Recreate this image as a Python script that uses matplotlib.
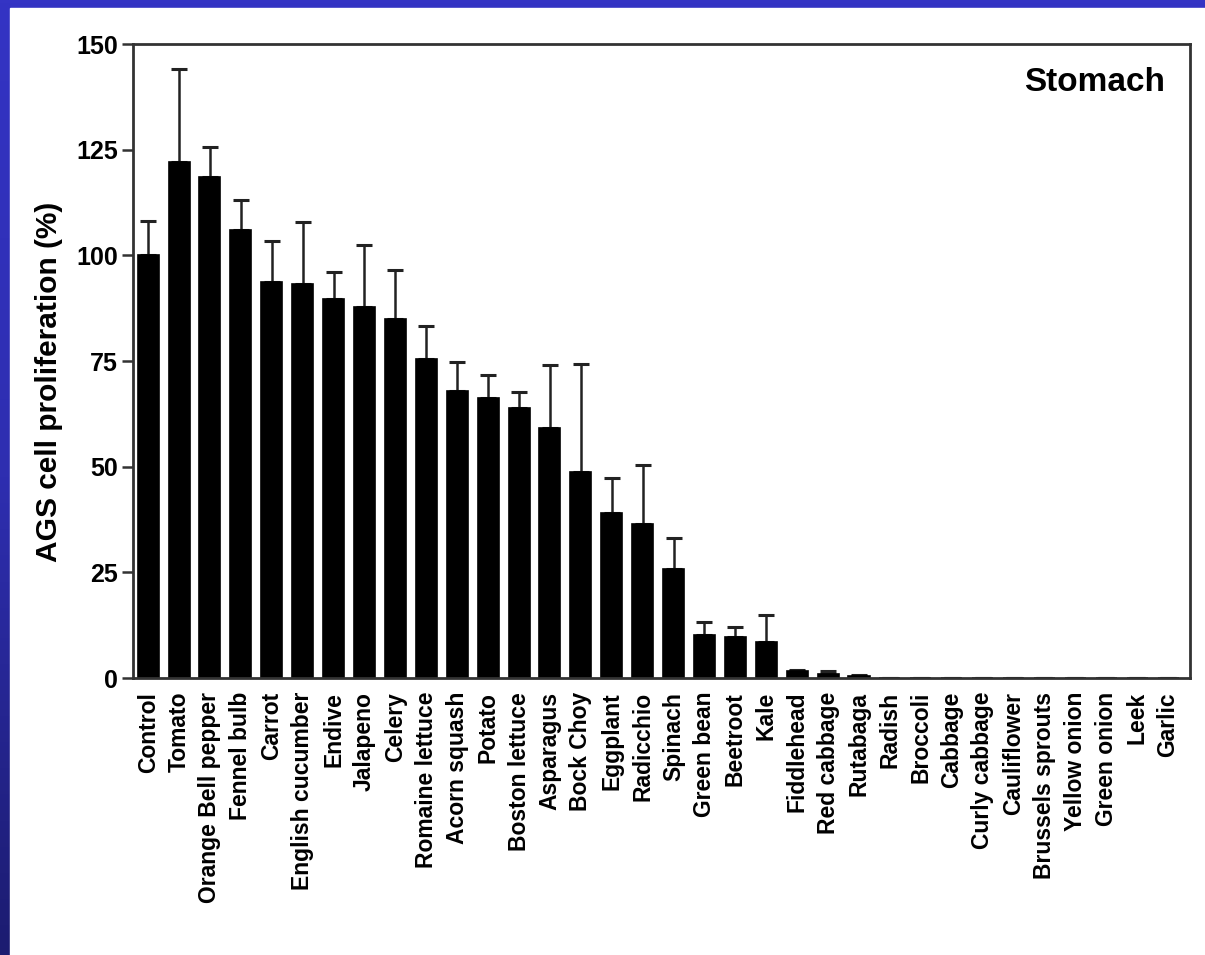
import numpy as np
import matplotlib
matplotlib.use('Agg')
import matplotlib.pyplot as plt
from matplotlib.colors import LinearSegmentedColormap

plt.rcParams['font.family'] = ['Liberation Sans', 'DejaVu Sans']
plt.rcParams['font.weight'] = 'bold'

vegetables = ['Control', 'Tomato', 'Orange Bell pepper', 'Fennel bulb', 'Carrot',
              'English cucumber', 'Endive', 'Jalapeno', 'Celery', 'Romaine lettuce',
              'Acorn squash', 'Potato', 'Boston lettuce', 'Asparagus', 'Bock Choy',
              'Eggplant', 'Radicchio', 'Spinach', 'Green bean', 'Beetroot', 'Kale',
              'Fiddlehead', 'Red cabbage', 'Rutabaga', 'Radish', 'Broccoli', 'Cabbage',
              'Curly cabbage', 'Cauliflower', 'Brussels sprouts', 'Yellow onion',
              'Green onion', 'Leek', 'Garlic']
proliferation = [100, 122, 118.6, 106, 93.6, 93.1, 89.7, 87.8, 84.9, 75.5,
                 67.9, 66.2, 63.9, 59.1, 48.7, 39.0, 36.4, 25.8, 10.2, 9.6, 8.4,
                 1.6, 1.0, 0.5, 0, 0, 0, 0, 0, 0, 0, 0, 0, 0]
sem = [8.2, 22.1, 7.1, 7.0, 9.9, 14.9, 6.3, 14.6, 11.6, 7.8,
       6.9, 5.5, 3.8, 14.9, 25.6, 8.3, 14.0, 7.3, 3.1, 2.4, 6.5,
       0.4, 0.7, 0.3, 0, 0, 0, 0, 0, 0, 0, 0, 0, 0]

fig = plt.figure(figsize=(12.05, 9.55), dpi=100)

# blue slide background with a darker bottom
bg = fig.add_axes([0, 0, 1, 1], zorder=-10)
cmap = LinearSegmentedColormap.from_list('slide', ['#1c1c70', '#2e2eb0', '#3434c4'])
bg.imshow(np.linspace(0, 1, 256).reshape(-1, 1), aspect='auto', cmap=cmap,
          origin='lower', extent=[0, 1, 0, 1])
bg.add_patch(plt.Rectangle((10 / 1205, 0), 1, 1 - 8 / 955, color='white'))
bg.set_xlim(0, 1)
bg.set_ylim(0, 1)
bg.axis('off')

ax = fig.add_axes([133 / 1205, 1 - 678 / 955, 1057 / 1205, 634 / 955])
ax.patch.set_alpha(0)
x = np.arange(len(vegetables))
# upper-only error bars, drawn beneath the bars so the lower cap is hidden
ax.errorbar(x, proliferation, yerr=[np.zeros(len(sem)), sem], fmt='none',
            ecolor='#222222', elinewidth=1.8, capsize=6, capthick=2.2, zorder=1)
ax.bar(x, proliferation, width=0.68, color='black', edgecolor='black',
       linewidth=1.2, zorder=2)

ax.set_xlim(-0.49, len(vegetables) - 1 + 0.71)
ax.set_ylim(0, 150)
ax.set_yticks([0, 25, 50, 75, 100, 125, 150])
ax.set_xticks(x)
ax.set_xticklabels(vegetables, rotation=90, fontsize=16.5, fontweight='bold')
ax.tick_params(axis='x', length=0, pad=10)
ax.tick_params(axis='y', length=8, width=1.8, color='#333333', labelsize=18, pad=3)
for lab in ax.get_yticklabels():
    lab.set_fontweight('bold')
for spine in ax.spines.values():
    spine.set_linewidth(2)
    spine.set_color('#333333')
    spine.set_zorder(3)

ax.set_ylabel('AGS cell proliferation (%)', fontsize=21.5, fontweight='bold')
ax.yaxis.set_label_coords(-0.066, 0.467)
ax.text(0.976, 0.94, 'Stomach', transform=ax.transAxes, ha='right', va='center',
        fontsize=24, fontweight='bold')

fig.savefig('out.png', dpi=100)
